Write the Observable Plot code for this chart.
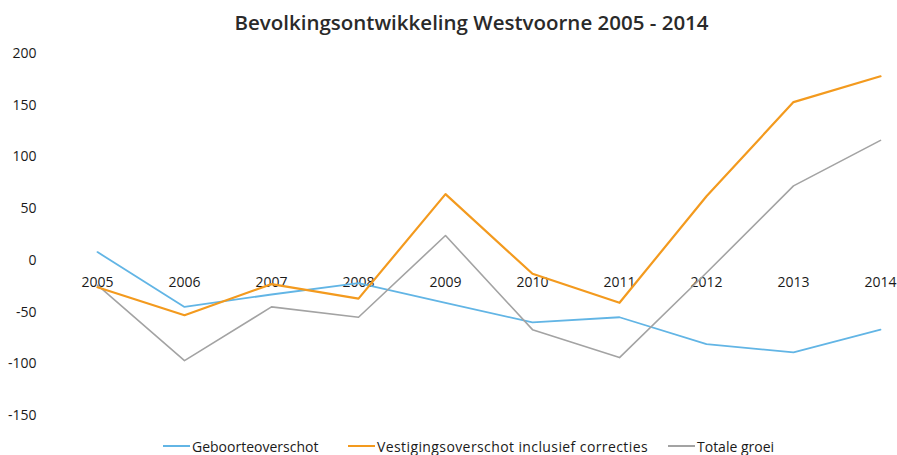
<!DOCTYPE html>
<html><head><meta charset="utf-8">
<script src="https://cdn.jsdelivr.net/npm/d3@7"></script>
<script src="https://cdn.jsdelivr.net/npm/@observablehq/plot@0.6"></script>
<style>
body{margin:0;background:#fff;font-family:"Open Sans",sans-serif;width:897px;height:455px;position:relative;overflow:hidden;}
#title{height:40px;line-height:44px;text-align:center;font-weight:600;font-size:20.5px;color:#2a2a2a;padding-left:46px;}
#legend{position:absolute;left:0;top:437px;width:897px;height:18px;font-size:14px;color:#1a1a1a;}
.item{position:absolute;top:0;display:flex;align-items:center;height:18px;white-space:nowrap;}
.sw{display:inline-block;width:27px;height:2px;margin-right:2px;}
</style></head>
<body>
<div id="title">Bevolkingsontwikkeling Westvoorne 2005 - 2014</div>
<div id="chart"></div>
<div id="legend"></div>
<script>
const years = ["2005","2006","2007","2008","2009","2010","2011","2012","2013","2014"];
const geboorteoverschot = [8,-45,-33,-22,-41,-60,-55,-81,-89,-67];
const vestigingsoverschot = [-26,-53,-23,-37,64,-13,-41,62,153,178];
const totaleGroei = [-24,-97,-45,-55,24,-67,-94,-12,72,116];
const seriesNames = ["Geboorteoverschot","Vestigingsoverschot inclusief correcties","Totale groei"];
const colors = ["#62b5e5","#f39a1e","#a3a3a3"];
const yTicks = [-150,-100,-50,0,50,100,150,200];

const rows = [];
[geboorteoverschot, vestigingsoverschot, totaleGroei].forEach((arr, s) => {
  arr.forEach((v, i) => rows.push({year: years[i], value: v, series: seriesNames[s]}));
});

const chart = Plot.plot({
  width: 897, height: 390,
  marginLeft: 97, marginRight: 17, marginTop: 13, marginBottom: 15,
  style: {fontFamily: "Open Sans, sans-serif", fontSize: "14px", color: "#1a1a1a", background: "#fff"},
  x: {type: "point", domain: years, padding: 0, axis: null},
  y: {domain: [-150, 200], ticks: yTicks, tickFormat: d => String(d), label: null},
  marks: [
    Plot.axisY({ticks: yTicks, tickSize: 0, tickPadding: 61, tickFormat: d => String(d), label: null, fontSize: 14}),
    Plot.text(years, {x: d => d, y: 0, dy: 22, text: d => d, fontSize: 14, fill: "#1a1a1a"}),
    Plot.line(rows.filter(r => r.series === seriesNames[0]), {x: "year", y: "value", stroke: colors[0], strokeWidth: 1.8}),
    Plot.line(rows.filter(r => r.series === seriesNames[2]), {x: "year", y: "value", stroke: colors[2], strokeWidth: 1.6}),
    Plot.line(rows.filter(r => r.series === seriesNames[1]), {x: "year", y: "value", stroke: colors[1], strokeWidth: 2.2})
  ]
});
document.getElementById("chart").appendChild(chart);

const legendLeft = [163, 348, 668];
const legendSpacing = [0, 0.4, 0];
const leg = document.getElementById("legend");
seriesNames.forEach((n, i) => {
  const it = document.createElement("div"); it.className = "item"; it.style.left = legendLeft[i] + "px";
  const sw = document.createElement("span"); sw.className = "sw"; sw.style.background = colors[i];
  const t = document.createElement("span"); t.textContent = n; t.style.letterSpacing = legendSpacing[i] + "px";
  it.appendChild(sw); it.appendChild(t); leg.appendChild(it);
});
</script>
</body></html>
